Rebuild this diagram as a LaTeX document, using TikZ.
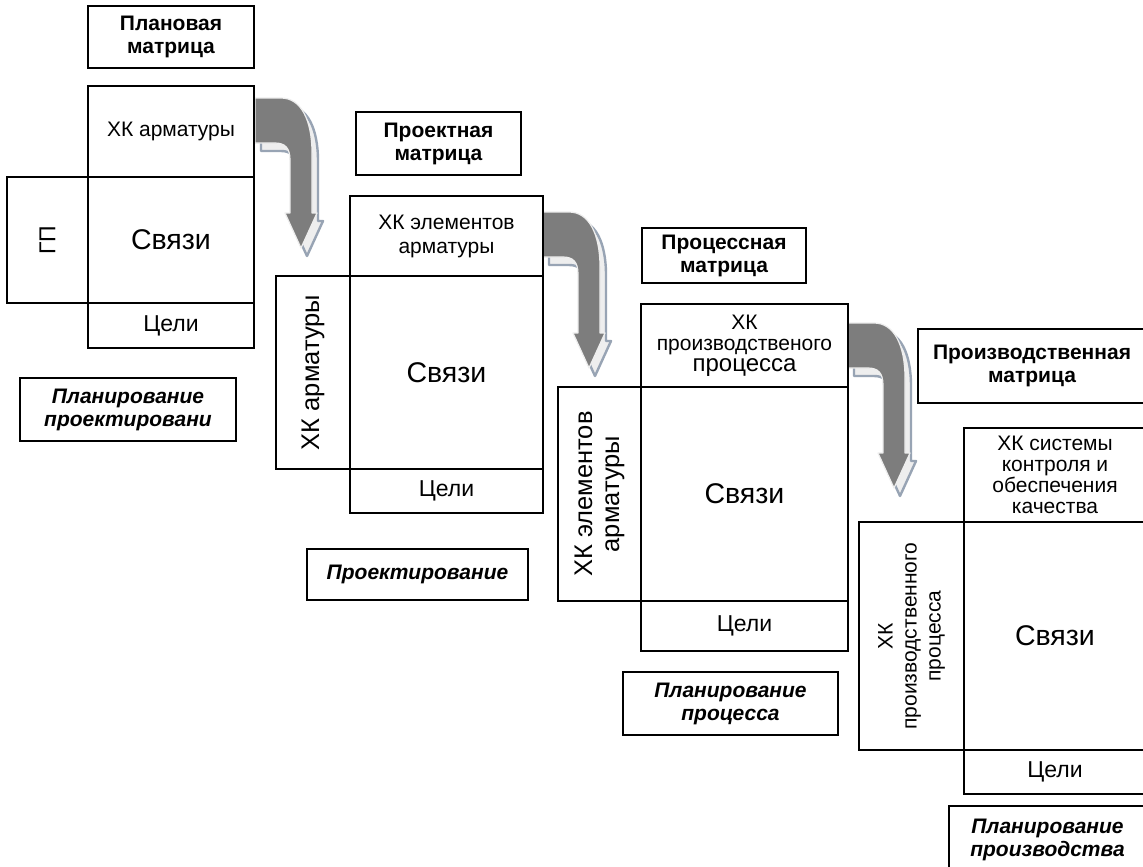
\documentclass[tikz,border=0pt]{standalone}
\usepackage{fontspec}
\setmainfont{Liberation Sans}
\definecolor{arrowdark}{HTML}{7D7D7D}
\definecolor{arrowlight}{HTML}{EEEEEE}
\definecolor{arrowedge}{HTML}{98A4B4}
\newcommand\BigArrow[3]{%
  \begin{scope}[shift={(#1,#2)}]
    \begin{scope}[shift={(6,8)}]
      \filldraw[fill=arrowlight, draw=arrowedge, line width=2.4pt, line join=round]
        (0,0) -- (26,0) .. controls (46,0) and (57,22) .. (57,55) -- (57,#3-35)
        -- (62,#3-35) -- (46,#3) -- (30,#3-35) -- (35,#3-35) -- (35,62)
        .. controls (35,50) and (30,45) .. (20,45) -- (0,45) -- cycle;
    \end{scope}
    \filldraw[fill=arrowdark, draw=arrowlight, line width=1.2pt, line join=round]
      (0,0) -- (26,0) .. controls (46,0) and (57,22) .. (57,55) -- (57,#3-35)
      -- (62,#3-35) -- (46,#3) -- (30,#3-35) -- (35,#3-35) -- (35,62)
      .. controls (35,50) and (30,45) .. (20,45) -- (0,45) -- cycle;
  \end{scope}}
\begin{document}
\begin{tikzpicture}[x=1pt,y=-1pt,
  box/.style={draw=black, line width=1.5pt, inner sep=0pt, align=center},
  titlef/.style={font=\fontsize{21}{23}\selectfont\bfseries},
  labf/.style={font=\fontsize{21}{23}\selectfont\bfseries\itshape},
  hdrf/.style={font=\fontsize{21}{24}\selectfont},
  relf/.style={font=\fontsize{28.5}{30}\selectfont},
  goalf/.style={font=\fontsize{23}{25}\selectfont},
  vertf/.style={font=\fontsize{25.5}{27}\selectfont, rotate=90}]
\useasboundingbox (0,0) rectangle (1143,867);
\clip (0,0) rectangle (1143,867);
\fill[white] (0,0) rectangle (1143,867);

% arrows
\BigArrow{255}{98}{150}
\BigArrow{543}{212}{156}
\BigArrow{848}{323}{165}

% Matrix 1
\node[box, titlef, minimum width=166, minimum height=62] (t1) at (171,37) {Плановая\\матрица};
\node[box, hdrf, minimum width=166, minimum height=91] (a1) at (171,131.5) {ХК арматуры};
\node[box, font=\fontsize{23}{25}\selectfont, rotate=90, minimum width=126, minimum height=81] (l1) at (47.5,240) {ГП};
\node[box, relf, minimum width=166, minimum height=126] (c1) at (171,240) {Связи};
\node[box, goalf, minimum width=166, minimum height=45] (g1) at (171,325.5) {Цели};
\node[box, labf, minimum width=216, minimum height=63] (p1) at (128,409.5) {Планирование\\проектировани};

% Matrix 2
\node[box, titlef, minimum width=165, minimum height=63] (t2) at (438.5,143.5) {Проектная\\матрица};
\node[box, hdrf, minimum width=193, minimum height=80] (a2) at (446.5,236) {ХК элементов\\арматуры};
\node[box, vertf, minimum width=193, minimum height=74] (l2) at (313,372.5) {ХК арматуры};
\node[box, relf, minimum width=193, minimum height=193] (c2) at (446.5,372.5) {Связи};
\node[box, goalf, minimum width=193, minimum height=44] (g2) at (446.5,491) {Цели};
\node[box, labf, minimum width=221, minimum height=51] (p2) at (417.5,574.5) {Проектирование};

% Matrix 3
\node[box, titlef, minimum width=164, minimum height=55] (t3) at (724,255.5) {Процессная\\матрица};
\node[box, font=\fontsize{21}{21}\selectfont, minimum width=207, minimum height=83] (a3) at (744.5,345.5)
  {ХК\\производственого\\{\fontsize{24}{23}\selectfont процесса}};
\node[box, vertf, minimum width=214, minimum height=83] (l3) at (599.5,494) {ХК элементов\\арматуры};
\node[box, relf, minimum width=207, minimum height=214] (c3) at (744.5,494) {Связи};
\node[box, goalf, minimum width=207, minimum height=50] (g3) at (744.5,626) {Цели};
\node[box, labf, minimum width=215, minimum height=63] (p3) at (730.5,703.5) {Планирование\\процесса};

% Matrix 4
\node[box, titlef, minimum width=228, minimum height=74] (t4) at (1032,366) {Производственная\\матрица};
\node[box, font=\fontsize{21}{21}\selectfont, minimum width=182, minimum height=94] (a4) at (1055,475)
  {ХК системы\\контроля и\\обеспечения\\качества};
\node[box, font=\fontsize{21}{24}\selectfont, rotate=90, minimum width=228, minimum height=105] (l4) at (911.5,636)
  {ХК\\производственного\\процесса};
\node[box, relf, minimum width=182, minimum height=228] (c4) at (1055,636) {Связи};
\node[box, goalf, minimum width=182, minimum height=44] (g4) at (1055,772) {Цели};
\node[box, labf, minimum width=197, minimum height=68] (p4) at (1047.5,840) {Планирование\\производства};
\end{tikzpicture}
\end{document}
